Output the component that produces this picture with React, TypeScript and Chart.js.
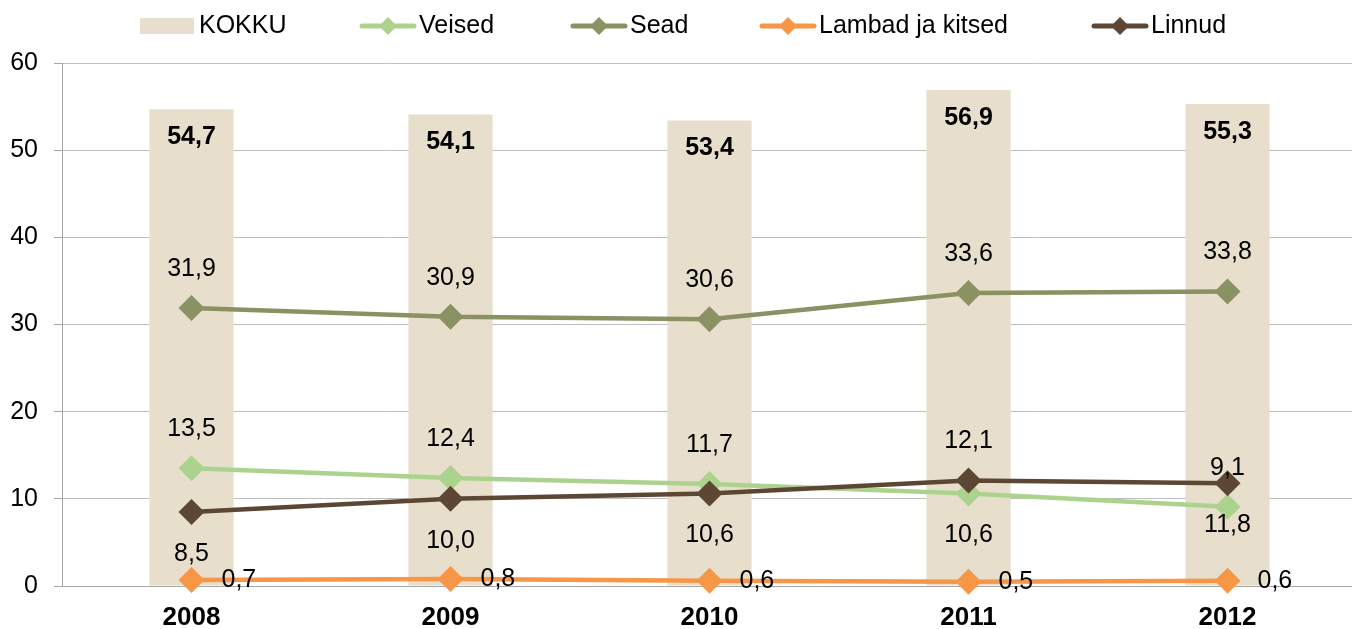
import React, { useEffect, useRef } from "react";
import { Chart, registerables } from "chart.js";

Chart.register(...registerables);

const categories = ["2008", "2009", "2010", "2011", "2012"];
const kokku = [54.7, 54.1, 53.4, 56.9, 55.3];
const veised = [13.5, 12.4, 11.7, 10.6, 9.1];
const sead = [31.9, 30.9, 30.6, 33.6, 33.8];
const lambad = [0.7, 0.8, 0.6, 0.5, 0.6];
const linnud = [8.5, 10.0, 10.6, 12.1, 11.8];
const yMin = 0;
const yMax = 60;
const yStep = 10;

const FONT = "'Liberation Sans', Arial, sans-serif";
const C_BAR = "#E7DFCC";
const C_VEISED = "#ACD38D";
const C_SEAD = "#8A9163";
const C_LAMBAD = "#F79646";
const C_LINNUD = "#5C4734";

const fmt = (v: number) => v.toFixed(1).replace(".", ",");

const labelPlugin = {
  id: "valueLabels",
  afterDatasetsDraw(chart: any) {
    const ctx = chart.ctx;
    chart.data.datasets.forEach((ds: any, i: number) => {
      const pos: string[] | undefined = ds.labelPos;
      if (!pos) return;
      const meta = chart.getDatasetMeta(i);
      meta.data.forEach((el: any, j: number) => {
        const txt = fmt(ds.data[j]);
        const p = pos[j];
        let x = el.x;
        let y = el.y;
        ctx.save();
        ctx.fillStyle = "#000";
        ctx.textBaseline = "middle";
        ctx.textAlign = "center";
        ctx.font = `25px ${FONT}`;
        if (p === "above") y -= 39;
        else if (p === "below") y += 42;
        else if (p === "right") {
          x += 30;
          ctx.textAlign = "left";
        } else if (p === "insideTop") {
          y += 28;
          ctx.font = `bold 25px ${FONT}`;
        }
        ctx.fillText(txt, x, y);
        ctx.restore();
      });
    });
  },
};

const legendPlugin = {
  id: "customLegend",
  afterDraw(chart: any) {
    const ctx = chart.ctx;
    const cy = 26;
    const items = [
      { label: "KOKKU", type: "box", color: C_BAR, x: 140 },
      { label: "Veised", type: "line", color: C_VEISED, x: 360 },
      { label: "Sead", type: "line", color: C_SEAD, x: 571 },
      { label: "Lambad ja kitsed", type: "line", color: C_LAMBAD, x: 760 },
      { label: "Linnud", type: "line", color: C_LINNUD, x: 1092 },
    ];
    ctx.save();
    items.forEach((it) => {
      if (it.type === "box") {
        ctx.fillStyle = it.color;
        ctx.fillRect(it.x, cy - 8, 54, 16);
      } else {
        ctx.strokeStyle = it.color;
        ctx.lineWidth = 5;
        ctx.lineCap = "round";
        ctx.beginPath();
        ctx.moveTo(it.x + 2, cy);
        ctx.lineTo(it.x + 54, cy);
        ctx.stroke();
        ctx.fillStyle = it.color;
        const mx = it.x + 28;
        const r = 9;
        ctx.beginPath();
        ctx.moveTo(mx - r, cy);
        ctx.lineTo(mx, cy - r);
        ctx.lineTo(mx + r, cy);
        ctx.lineTo(mx, cy + r);
        ctx.closePath();
        ctx.fill();
      }
      ctx.fillStyle = "#000";
      ctx.font = `25px ${FONT}`;
      ctx.textAlign = "left";
      ctx.textBaseline = "middle";
      ctx.fillText(it.label, it.x + 59, cy);
    });
    ctx.restore();
  },
};

function lineDs(label: string, data: number[], color: string, order: number, labelPos: string[]) {
  return {
    type: "line" as const,
    label,
    data,
    borderColor: color,
    backgroundColor: color,
    borderWidth: 4.5,
    pointStyle: "rectRot",
    pointRadius: 13,
    pointHoverRadius: 13,
    pointBorderWidth: 0,
    pointBackgroundColor: color,
    tension: 0,
    clip: false,
    order,
    labelPos,
  };
}

export default function App() {
  const ref = useRef<HTMLCanvasElement | null>(null);
  useEffect(() => {
    if (!ref.current) return;
    const chart = new Chart(ref.current, {
      type: "bar",
      data: {
        labels: categories,
        datasets: [
          {
            type: "bar",
            label: "KOKKU",
            data: kokku,
            backgroundColor: C_BAR,
            barPercentage: 0.325,
            categoryPercentage: 1,
            order: 5,
            labelPos: categories.map(() => "insideTop"),
          } as any,
          lineDs("Veised", veised, C_VEISED, 4, ["above", "above", "above", "below", "above"]),
          lineDs("Sead", sead, C_SEAD, 3, categories.map(() => "above")),
          lineDs("Lambad ja kitsed", lambad, C_LAMBAD, 2, categories.map(() => "right")),
          lineDs("Linnud", linnud, C_LINNUD, 1, ["below", "below", "below", "above", "below"]),
        ] as any,
      },
      options: {
        animation: false,
        responsive: false,
        maintainAspectRatio: false,
        devicePixelRatio: 1,
        layout: { padding: { top: 63, right: 3, left: 0, bottom: 0 } },
        plugins: {
          legend: { display: false },
          tooltip: { enabled: false },
          title: { display: false },
        },
        scales: {
          x: {
            offset: true,
            grid: { display: false, drawTicks: false },
            border: { display: true, color: "#A6A6A6", width: 1 },
            ticks: {
              color: "#000",
              font: { family: FONT, size: 26, weight: "bold" },
              padding: 16,
              maxRotation: 0,
            },
            afterFit: (s: any) => {
              s.height = 43;
            },
          },
          y: {
            min: yMin,
            max: yMax,
            ticks: {
              stepSize: yStep,
              color: "#000",
              font: { family: FONT, size: 25 },
              padding: 16,
              callback: (v: any) => String(v),
            },
            grid: {
              color: (c: any) => (c.tick && c.tick.value === 0 ? "#A6A6A6" : "#BFBFBF"),
              tickColor: "#A6A6A6",
              tickLength: 8,
              lineWidth: 1,
            },
            border: { display: true, color: "#A6A6A6", width: 1 },
            afterFit: (s: any) => {
              s.width = 62;
            },
          },
        },
      } as any,
      plugins: [labelPlugin, legendPlugin],
    });
    return () => chart.destroy();
  }, []);

  return (
    <div
      style={{
        position: "absolute",
        left: 0,
        top: 0,
        width: 1352,
        height: 629,
        overflow: "hidden",
        background: "#fff",
      }}
    >
      <canvas ref={ref} width={1370} height={629} style={{ width: 1370, height: 629, display: "block" }} />
    </div>
  );
}
